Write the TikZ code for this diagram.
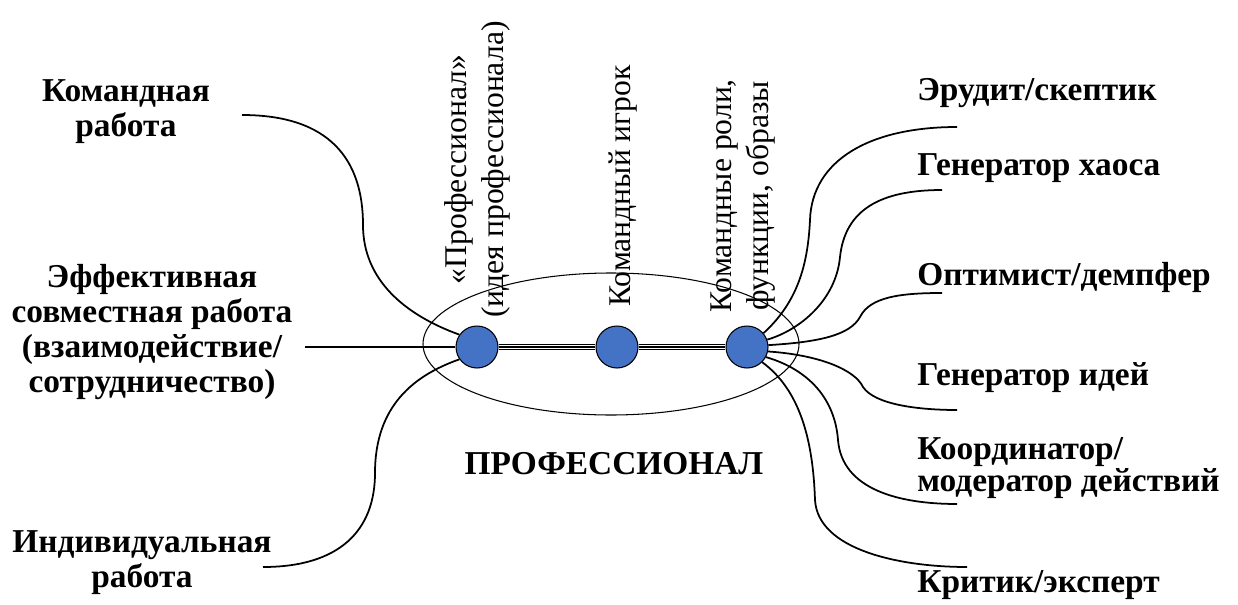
\documentclass[tikz,border=0pt]{standalone}
\usepackage{fontspec}
\setmainfont{Liberation Serif}
\definecolor{dotblue}{HTML}{4472C4}

\begin{document}
\begin{tikzpicture}[x=0.02cm,y=-0.02cm,
    dot/.style={circle,draw=black,line width=0.6pt,fill=dotblue,minimum size=0.84cm,inner sep=0pt},
    lbl/.style={font=\fontsize{19}{20}\selectfont\bfseries,inner sep=0pt},
    vlbl/.style={font=\fontsize{18}{21}\selectfont,rotate=90,anchor=west,align=center,inner sep=0pt},
    link/.style={line width=1pt}]
\useasboundingbox (0,0) rectangle (1238,605);

% the three points on the axis
\node[dot] (p1) at (477,347) {};
\node[dot] (p2) at (617,347) {};
\node[dot] (p3) at (747,347) {};
\draw[line width=0.6pt] (611,344) ellipse [x radius=188,y radius=71];
\draw[double,double distance=1.8pt,line width=0.8pt] (p1) -- (p2) (p2) -- (p3);
\draw[line width=0.6pt] (p1) -- (p2) (p2) -- (p3);

\node[vlbl] (v1) at (477,318) {«Профессионал»\\(идея профессионала)};
\node[vlbl] (v2) at (623,307) {Командный игрок};
\node[vlbl] (v3) at (743,313) {Командные роли,\\функции, образы};
\node[lbl] (prof) at (614,464) {ПРОФЕССИОНАЛ};

% left side
\node[lbl,align=center] (team) at (126,112) {Командная\\работа};
\node[lbl,align=center] (eff) at (152,332) {Эффективная\\совместная работа\\(взаимодействие/\\сотрудничество)};
\node[lbl,align=center] (ind) at (142,563) {Индивидуальная\\работа};
\coordinate (tA) at (242,115);
\coordinate (eA) at (305,347);
\coordinate (iA) at (263,567);
\draw[link] (tA) .. controls (330,115) and (363,160) .. (363,225)
    .. controls (363,280) and (405,315) .. (p1.145);
\draw[link] (eA) -- (p1);
\draw[link] (iA) .. controls (340,567) and (375,530) .. (375,473)
    .. controls (375,405) and (415,375) .. (p1.215);

% right side
\node[lbl,anchor=west] (erud) at (917,93) {Эрудит/скептик};
\node[lbl,anchor=west] (chaos) at (917,168) {Генератор хаоса};
\node[lbl,anchor=west] (optim) at (917,277) {Оптимист/демпфер};
\node[lbl,anchor=west] (ideas) at (917,378) {Генератор идей};
\node[lbl,anchor=west,align=left,font=\fontsize{19}{17}\selectfont\bfseries] (coord) at (917,468) {Координатор/\\модератор действий};
\node[lbl,anchor=west] (crit) at (917,585) {Критик/эксперт};
\coordinate (r1) at (957,127);
\coordinate (r2) at (942,190);
\coordinate (r3) at (942,293);
\coordinate (r4) at (957,410);
\coordinate (r5) at (957,504);
\coordinate (r6) at (967,567);
\draw[link] (p3.40) .. controls (800,300) and (808,260) .. (810,220)
    .. controls (812,160) and (870,127) .. (r1);
\draw[link] (p3.20) .. controls (800,330) and (836,300) .. (840,257)
    .. controls (845,210) and (880,190) .. (r2);
\draw[link] (p3.5) .. controls (820,342) and (850,335) .. (860,317)
    .. controls (870,297) and (900,293) .. (r3);
\draw[link] (p3.-12) .. controls (820,355) and (855,370) .. (863,387)
    .. controls (875,405) and (920,410) .. (r4);
\draw[link] (p3.-28) .. controls (810,370) and (835,400) .. (838,440)
    .. controls (842,490) and (900,504) .. (r5);
\draw[link] (p3.-45) .. controls (800,390) and (813,440) .. (815,500)
    .. controls (818,550) and (900,567) .. (r6);
\end{tikzpicture}
\end{document}
